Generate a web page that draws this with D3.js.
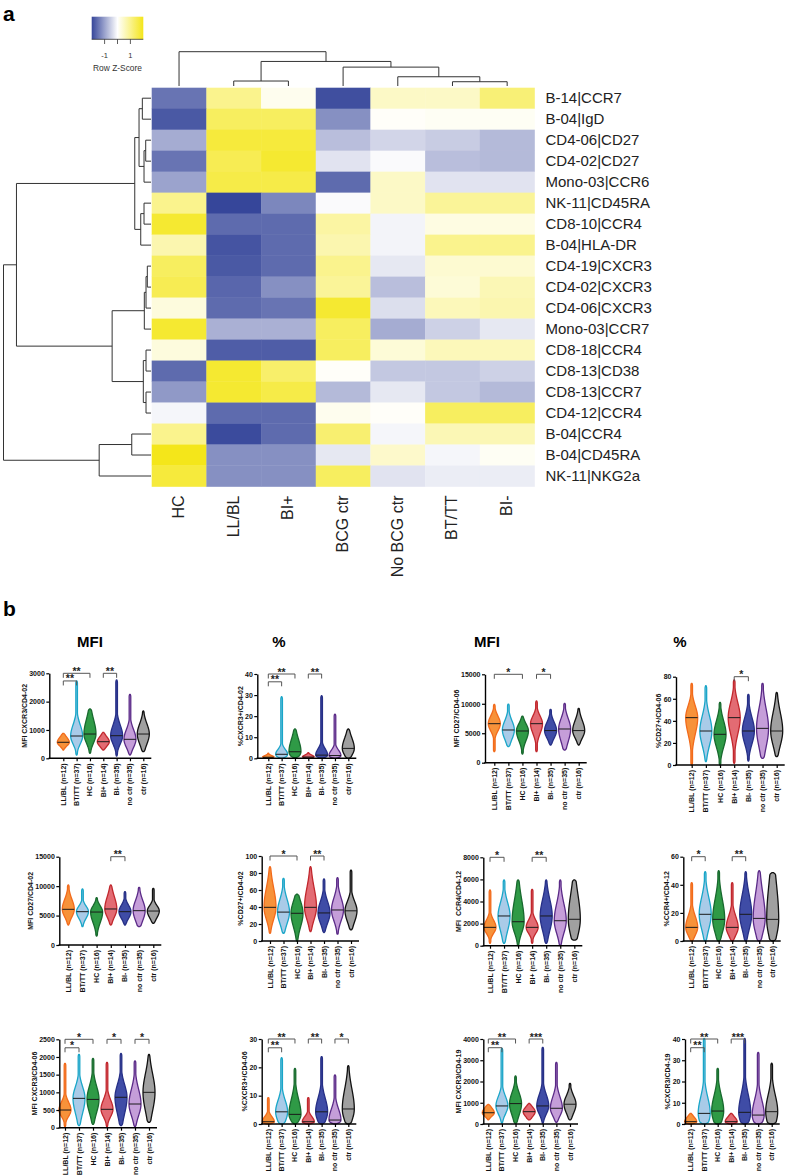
<!DOCTYPE html>
<html><head><meta charset="utf-8">
<script src="https://cdn.jsdelivr.net/npm/d3@7"></script>
<style>
body{margin:0;background:#fff}
svg{display:block}
text{font-family:"Liberation Sans",Arial,sans-serif}
</style>
</head><body>
<svg id="c" width="789" height="1175"></svg>
<script>
// ================= DATA =================
// ---- panel a : heatmap ----
const heatColumns = ["HC","LL/BL","BI+","BCG ctr","No BCG ctr","BT/TT","BI-"];
const heatRows = ["B-14|CCR7","B-04|IgD","CD4-06|CD27","CD4-02|CD27","Mono-03|CCR6","NK-11|CD45RA","CD8-10|CCR4","B-04|HLA-DR","CD4-19|CXCR3","CD4-02|CXCR3","CD4-06|CXCR3","Mono-03|CCR7","CD8-18|CCR4","CD8-13|CD38","CD8-13|CCR7","CD4-12|CCR4","B-04|CCR4","B-04|CD45RA","NK-11|NKG2a"];
const zScores = [
 [-1.5, 1.0, 0.15, -1.9, 0.5, 0.5, 1.2],
 [-1.8, 1.4, 1.4, -1.2, 0.05, 0.1, 0.1],
 [-0.9, 1.7, 1.7, -0.7, -0.45, -0.55, -0.75],
 [-1.5, 1.5, 1.8, -0.3, -0.05, -0.7, -0.75],
 [-1.0, 1.6, 1.6, -1.6, 0.5, -0.3, -0.3],
 [1.0, -2.0, -1.3, -0.05, 0.5, 0.9, 0.9],
 [1.8, -1.6, -1.6, 0.8, -0.12, 0.25, 0.25],
 [0.7, -1.85, -1.6, 0.7, -0.12, 1.0, 1.0],
 [1.4, -1.8, -1.6, 1.0, -0.25, 0.4, 0.4],
 [1.5, -1.65, -1.2, 0.9, -0.7, 0.35, 0.65],
 [0.3, -1.6, -1.5, 1.8, -0.35, 0.6, 0.7],
 [1.8, -0.85, -0.85, 1.4, -0.9, -0.5, -0.25],
 [0.3, -1.75, -1.75, 1.4, 0.35, 0.6, 0.6],
 [-1.6, 1.8, 1.3, 0.05, -0.6, -0.6, -0.5],
 [-1.1, 1.8, 1.6, -0.75, -0.25, -0.6, -0.75],
 [-0.1, -1.6, -1.6, 0.15, 0.05, 1.4, 1.4],
 [1.0, -1.95, -1.6, 1.25, -0.1, 0.65, 0.65],
 [2.0, -1.2, -1.2, -0.25, 0.45, -0.1, 0.1],
 [1.7, -1.2, -1.2, 1.4, -0.3, -0.2, -0.2]
];
const legendTicks = [-1, 0, 1];
const legendLabels = ["-1", "", "1"];
// dendrograms: [height, left, right]; numbers are leaf indices
const colTree = [34.5, 0, [24.7, [5, 1, 2], [19, 3, [9.3, 4, [4.3, 5, 6]]]]];
const rowTree = [148,
  [135,
    [16.3, [12, [8.7, 0, 1], [7, [5.3, 2, 3], 4]], [10.3, [7, 5, 6], 7]],
    [39, [6.7, [5, [3.7, 8, 9], 10], 11], [7.7, [5, 12, 13], [5, 14, 15]]]
  ],
  [52, [19.3, 16, 17], 18]
];

// ---- panel b : violins ----
const groupLabels = ["LL/BL (n=12)","BT/TT (n=37)","HC (n=16)","BI+ (n=14)","BI- (n=35)","no ctr (n=35)","ctr (n=16)"];
// each violin: [min, q1, median, q3, max]
const mfiCxcr3Cd402 = [[293,480,565,680,882],[116,600,787,1050,2728],[176,650,857,1200,1740],[293,480,586,700,918],[81,600,798,1050,2763],[116,480,670,900,2259],[233,620,857,1100,1670]];
const pctCxcr3Cd402 = [[0,0.2,0.5,1.0,2.4],[0,0.8,1.9,3.5,29.2],[0.3,1.5,3.1,7,13.9],[0,0.2,0.6,1.2,2.7],[0,0.6,1.5,3.5,29.7],[0,0.5,1.3,3,20.9],[0,2.5,4.7,8,13.9]];
const mfiCd27Cd406 = [[1870,5800,6620,7500,9900],[2720,4500,5550,6600,9950],[1480,4300,5380,6200,7920],[1870,5500,6620,7500,10470],[3000,4600,5450,6400,9060],[2150,4300,5720,6900,10080],[3000,4600,5450,6600,9230]];
const pctCd27Cd406 = [[0,33,42.9,50,74],[3,22,30.8,40,71.8],[0,20,27.8,36,56.8],[1.5,33,42.9,52,77],[3.6,23,30.8,39,64],[6,22,33.2,45,74],[7.5,22,30.8,42,65.8]];
const mfiCd27Cd402 = [[3400,5200,6060,7200,10190],[3110,4900,5660,6300,9510],[1530,4400,5600,6300,8040],[3400,5200,6120,7500,10190],[3400,4900,5660,6400,9060],[3110,4700,5830,7000,9800],[3680,5000,5770,6400,9630]];
const pctCd27Cd402 = [[9,30,39.6,55,87.4],[9,25,34,44,73.7],[0,22,32.6,42,55],[11,30,39.6,55,87.4],[10,25,33,42,73],[8,28,36.5,46,74.5],[13,27,35.5,43,83.5]];
const mfiCcr4Cd412 = [[215,1300,1660,2100,5040],[215,1800,2690,3500,5950],[0,1500,2170,3500,5950],[215,1300,1660,2100,5100],[215,1800,2690,3700,5950],[0,1500,2260,3300,5950],[500,1400,2390,3900,5950]];
const pctCcr4Cd412 = [[0,6,9.7,15,41.5],[0,12,19,27,49.3],[0,9,15.4,25,50],[0,6,9.7,15,41.5],[0,12,19,28,49.3],[0,9,16.1,28,50],[0,7,15.4,33,48.6]];
const mfiCxcr3Cd406 = [[28,380,500,650,1820],[57,550,830,1050,2075],[95,550,800,1050,1960],[28,380,520,700,1850],[57,550,860,1100,2100],[28,450,670,950,1890],[150,650,1000,1350,2075]];
const pctCxcr3Cd406 = [[0,0.3,0.8,2,9.3],[0,2,4.3,7,23.4],[0,1.8,3.4,7,19.6],[0,0.3,0.8,2,9.3],[0,2,4.3,7.5,23.8],[0,0.5,1.4,4,17.3],[0,2.5,5.3,10,20.6]];
const mfiCxcr3Cd419 = [[190,420,530,680,920],[30,600,850,1150,3560],[30,600,960,1300,2260],[190,430,580,720,970],[30,600,850,1200,3610],[80,500,740,1100,2900],[190,650,930,1200,1915]];
const pctCxcr3Cd419 = [[0,0.4,1.1,2.5,5],[0,1.5,5,10,40.3],[0,2.5,6.1,11,26.2],[0,0.4,1.1,2.5,5],[0,2,5.5,11,40.3],[0,1.5,4.2,9,33.7],[0,1.5,5.8,11,28.6]];

const ticks3000 = [0,1000,2000,3000];
const ticks40 = [0,10,20,30,40];
const ticks15000 = [0,5000,10000,15000];
const ticks80 = [0,20,40,60,80];
const ticks100 = [0,20,40,60,80,100];
const ticks8000 = [0,2000,4000,6000,8000];
const ticks60 = [0,20,40,60];
const ticks2500 = [0,500,1000,1500,2000,2500];
const ticks30 = [0,10,20,30];
const ticks4000 = [0,1000,2000,3000,4000];

// significance brackets: [groupA, groupB, y value, label]
const br1 = [[0,1,2730,"**"],[0,2,3000,"**"],[3,4,3000,"**"]];
const br2 = [[0,1,36.3,"**"],[0,2,40,"**"],[3,4,40,"**"]];
const br3 = [[0,2,15000,"*"],[3,4,15000,"*"]];
const br4 = [[3,4,80,"*"]];
const br5 = [[3,4,15000,"**"]];
const br6 = [[0,2,100,"*"],[3,4,100,"**"]];
const br7 = [[0,1,8000,"*"],[3,4,8000,"**"]];
const br8 = [[0,1,60,"*"],[3,4,60,"**"]];
const br9 = [[0,1,2260,"*"],[0,2,2500,"*"],[3,4,2500,"*"],[5,6,2500,"*"]];
const br10 = [[0,1,26.9,"**"],[0,2,30,"**"],[3,4,30,"**"],[5,6,30,"*"]];
const br11 = [[0,1,3590,"**"],[0,2,4000,"**"],[3,4,4000,"***"]];
const br12 = [[0,1,35.9,"**"],[0,2,40,"**"],[3,4,40,"***"]];

const columnTitles = ["MFI","%","MFI","%"];

// ================= STYLE / LAYOUT =================
const groupFill = ["#f7923a","#a9cbe8","#2f9a46","#e36b73","#3f4ca6","#c59ed9","#a0a0a0"];
const groupStroke = ["#f26a1b","#19a6c8","#18692e","#c1272d","#262f86","#5a2a87","#111111"];

const svg = d3.select("#c");

// ---------- panel a ----------
svg.append("text").attr("x",3).attr("y",21).attr("font-size",21).attr("font-weight","bold").text("a");

const hm = {x0:151.7, x1:534.5, y0:87.7, y1:486.5};
const hx = d3.scaleBand().domain(d3.range(heatColumns.length)).range([hm.x0, hm.x1]);
const hy = d3.scaleBand().domain(d3.range(heatRows.length)).range([hm.y0, hm.y1]);
const zColor = d3.scaleLinear().domain([-2,0,2]).range(["#36469a","#ffffff","#f4e61a"]).clamp(true);

const cells = svg.append("g");
zScores.forEach((row,r)=>row.forEach((v,c)=>{
  cells.append("rect").attr("x",hx(c)).attr("y",hy(r))
    .attr("width",hx.bandwidth()+0.3).attr("height",hy.bandwidth()+0.3)
    .attr("fill",zColor(v));
}));

// row labels
svg.append("g").selectAll("text").data(heatRows).join("text")
  .attr("x",hm.x1+11).attr("y",(d,i)=>hy(i)+hy.bandwidth()/2+5)
  .attr("font-size",15).attr("fill","#222").text(d=>d);

// column labels
svg.append("g").selectAll("text").data(heatColumns).join("text")
  .attr("transform",(d,i)=>`translate(${hx(i)+hx.bandwidth()/2+5},${hm.y1+9}) rotate(-90)`)
  .attr("text-anchor","end").attr("font-size",16).attr("fill","#222").text(d=>d);

// dendrograms
function layoutTree(t, leafPos, segs){
  if(typeof t === "number") return {p:leafPos(t), h:0};
  const [h,a,b] = t;
  const A = layoutTree(a,leafPos,segs), B = layoutTree(b,leafPos,segs);
  segs.push({a:A, b:B, h});
  return {p:(A.p+B.p)/2, h};
}
const colSegs = [];
layoutTree(colTree, i=>hx(i)+hx.bandwidth()/2, colSegs);
const colH = d3.scaleLinear().domain([0,34.5]).range([86,51.7]);
svg.append("g").selectAll("path").data(colSegs).join("path")
  .attr("d",s=>`M${s.a.p},${colH(s.a.h)}V${colH(s.h)}H${s.b.p}V${colH(s.b.h)}`)
  .attr("fill","none").attr("stroke","#333").attr("stroke-width",1);

const rowSegs = [];
layoutTree(rowTree, i=>hy(i)+hy.bandwidth()/2, rowSegs);
const rowH = d3.scaleLinear().domain([0,148]).range([151,3.5]);
svg.append("g").selectAll("path").data(rowSegs).join("path")
  .attr("d",s=>`M${rowH(s.a.h)},${s.a.p}H${rowH(s.h)}V${s.b.p}H${rowH(s.b.h)}`)
  .attr("fill","none").attr("stroke","#333").attr("stroke-width",1);

// colour key
const lgx = d3.scaleLinear().domain([-2,2]).range([91.7,143.3]);
const defs = svg.append("defs");
const grad = defs.append("linearGradient").attr("id","zgrad");
d3.range(-2,2.01,0.25).forEach(v=>grad.append("stop").attr("offset",(v+2)/4).attr("stop-color",zColor(v)));
svg.append("rect").attr("x",lgx(-2)).attr("y",16.7).attr("width",lgx(2)-lgx(-2)).attr("height",22.6).attr("fill","url(#zgrad)");
svg.append("line").attr("x1",lgx(-2)).attr("x2",lgx(2)).attr("y1",39.3).attr("y2",39.3).attr("stroke","#333").attr("stroke-width",0.8);
legendTicks.forEach((t,i)=>{
  svg.append("line").attr("x1",lgx(t)).attr("x2",lgx(t)).attr("y1",39.3).attr("y2",44).attr("stroke","#333").attr("stroke-width",0.8);
  svg.append("text").attr("x",lgx(t)).attr("y",58).attr("text-anchor","middle").attr("font-size",7.5).attr("fill","#333").text(legendLabels[i]);
});
svg.append("text").attr("x",lgx(0)).attr("y",71).attr("text-anchor","middle").attr("font-size",8.4).attr("fill","#333").text("Row Z-Score");

// ---------- panel b ----------
svg.append("text").attr("x",3).attr("y",616).attr("font-size",21).attr("font-weight","bold").text("b");
const titleX = [90, 279, 487, 680];
columnTitles.forEach((t,i)=>svg.append("text").attr("x",titleX[i]).attr("y",647)
  .attr("text-anchor","middle").attr("font-size",15).attr("font-weight","bold").text(t));

const panels = [
 {d:mfiCxcr3Cd402, t:ticks3000, br:br1, lab:"MFI CXCR3/CD4-02", ax:49.3, top:673.3, bot:758.3, c0:63.3, c1:143.3},
 {d:pctCxcr3Cd402, t:ticks40, br:br2, lab:"%CXCR3+/CD4-02", ax:257.3, top:674, bot:758.3, c0:268.3, c1:348.3},
 {d:mfiCd27Cd406, t:ticks15000, br:br3, lab:"MFI CD27/CD4-06", ax:485, top:674.3, bot:762.7, c0:494.3, c1:578.7},
 {d:pctCd27Cd406, t:ticks80, br:br4, lab:"%CD27+/CD4-06", ax:676, top:676.7, bot:765, c0:691.7, c1:776.7},
 {d:mfiCd27Cd402, t:ticks15000, br:br5, lab:"MFI CD27/CD4-02", ax:59.3, top:856.7, bot:945, c0:68.3, c1:153.3},
 {d:pctCd27Cd402, t:ticks100, br:br6, lab:"%CD27+/CD4-02", ax:261.7, top:856, bot:941, c0:270, c1:351},
 {d:mfiCcr4Cd412, t:ticks8000, br:br7, lab:"MFI  CCR4/CD4-12", ax:483.3, top:857.3, bot:945.7, c0:490, c1:574.3},
 {d:pctCcr4Cd412, t:ticks60, br:br8, lab:"%CCR4+/CD4-12", ax:683.3, top:856.7, bot:941, c0:691.7, c1:772.7},
 {d:mfiCxcr3Cd406, t:ticks2500, br:br9, lab:"MFI CXCR3/CD4-06", ax:59.3, top:1039.3, bot:1127.7, c0:65, c1:149},
 {d:pctCxcr3Cd406, t:ticks30, br:br10, lab:"%CXCR3+/CD4-06", ax:261.7, top:1039, bot:1124, c0:268.3, c1:348.3},
 {d:mfiCxcr3Cd419, t:ticks4000, br:br11, lab:"MFI CXCR3/CD4-19", ax:483.3, top:1039, bot:1124, c0:488.3, c1:570},
 {d:pctCxcr3Cd419, t:ticks40, br:br12, lab:"%CXCR3/CD4-19", ax:685, top:1039, bot:1124, c0:690.7, c1:771.7}
];

panels.forEach(P=>{
  const g = svg.append("g");
  const ymax = P.t[P.t.length-1];
  const y = d3.scaleLinear().domain([0,ymax]).range([P.bot,P.top]);
  const x = d3.scalePoint().domain(d3.range(groupLabels.length)).range([P.c0,P.c1]);
  const W = 6;
  // violins
  P.d.forEach((q,i)=>{
    const [mn,q1,md,q3,mx] = q;
    const eps = ymax*0.004;
    const sLo = Math.max((md-q1)/0.674, eps), sHi = Math.max((q3-md)/0.674, eps);
    const hw = v=>{
      const z = v<md ? (md-v)/sLo : (v-md)/sHi;
      let w = Math.max(W*Math.exp(-0.5*z*z), 0.8);
      const dpx = Math.min(y(mn)-y(v), y(v)-y(mx));
      if(dpx<1.5) w *= 0.35+0.65*Math.sqrt(Math.max(dpx,0)/1.5);
      return w;
    };
    const vals = d3.range(61).map(k=>mn+(mx-mn)*k/60);
    const area = d3.area().y(v=>y(v)).x0(v=>x(i)-hw(v)).x1(v=>x(i)+hw(v)).curve(d3.curveBasis);
    g.append("path").attr("d",area(vals)).attr("fill",groupFill[i])
      .attr("stroke",groupStroke[i]).attr("stroke-width",1.3).attr("stroke-linejoin","round");
    g.append("line").attr("x1",x(i)-hw(md)).attr("x2",x(i)+hw(md)).attr("y1",y(md)).attr("y2",y(md))
      .attr("stroke","#1a1a1a").attr("stroke-width",1);
  });
  // y axis
  const ya = g.append("g").attr("transform",`translate(${P.ax},0)`)
    .call(d3.axisLeft(y).tickValues(P.t).tickSize(3).tickSizeOuter(0).tickPadding(1.5).tickFormat(d3.format("d")));
  ya.select(".domain").attr("stroke","#000").attr("stroke-width",1.4);
  ya.selectAll(".tick line").attr("stroke","#000").attr("stroke-width",1.2);
  ya.selectAll(".tick text").attr("font-size",7).attr("font-weight","bold").attr("fill","#111")
    .attr("font-family","Liberation Sans, Arial, sans-serif");
  let maxW = 0;
  ya.selectAll(".tick text").each(function(){ maxW = Math.max(maxW, this.getComputedTextLength()); });
  const tx = P.ax - 4.5 - maxW - 2.5;
  g.append("text").attr("transform",`translate(${tx},${(P.top+P.bot)/2}) rotate(-90)`)
    .attr("text-anchor","middle").attr("font-size",7).attr("font-weight","bold").attr("fill","#111")
    .style("white-space","pre").text(P.lab);
  // x axis
  g.append("line").attr("x1",P.ax-0.7).attr("x2",P.c1+8).attr("y1",P.bot).attr("y2",P.bot)
    .attr("stroke","#000").attr("stroke-width",1.4);
  const xa = g.append("g").attr("transform",`translate(0,${P.bot})`)
    .call(d3.axisBottom(x).tickSize(3).tickSizeOuter(0).tickFormat(""));
  xa.select(".domain").remove();
  xa.selectAll(".tick line").attr("stroke","#000").attr("stroke-width",1.2);
  g.selectAll(".glab").data(groupLabels).join("text")
    .attr("transform",(d,i)=>`translate(${x(i)+2.5},${P.bot+5}) rotate(-90)`)
    .attr("text-anchor","end").attr("font-size",7).attr("font-weight","bold").attr("fill","#111").text(d=>d);
  // brackets
  P.br.forEach(([a,b,v,lab])=>{
    const yb = y(v);
    g.append("path").attr("d",`M${x(a)},${yb+4.5}V${yb}H${x(b)}V${yb+4.5}`)
      .attr("fill","none").attr("stroke","#555").attr("stroke-width",1);
    g.append("text").attr("x",(x(a)+x(b))/2).attr("y",yb+1.5).attr("text-anchor","middle")
      .attr("font-size",10.5).attr("font-weight","bold").attr("fill","#222").text(lab);
  });
});
</script>
</body></html>
